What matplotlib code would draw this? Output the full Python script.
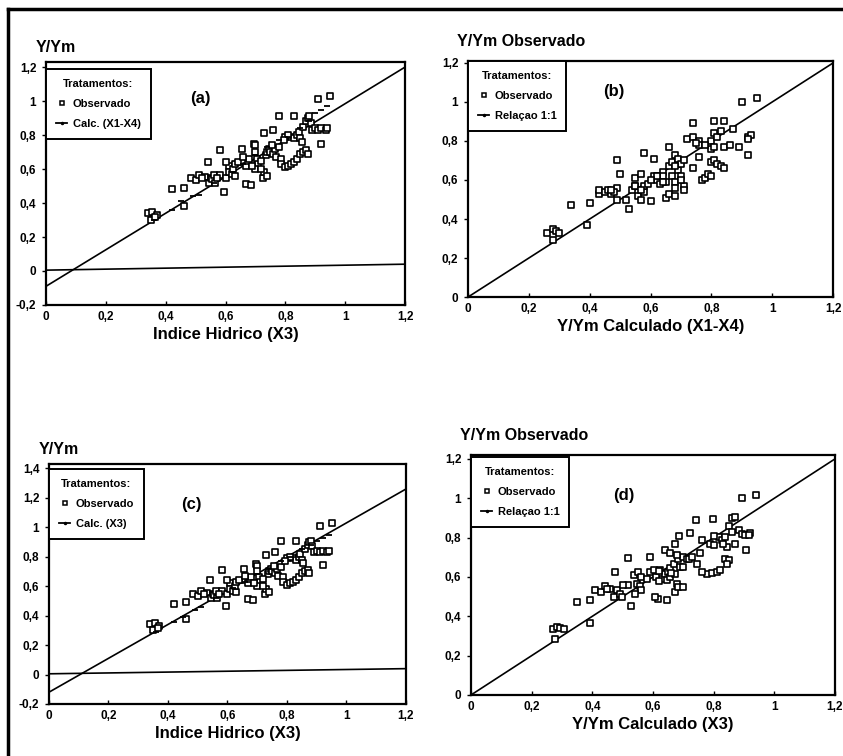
import matplotlib
matplotlib.use("Agg")
import matplotlib.pyplot as plt
from matplotlib.lines import Line2D

plt.rcParams['font.family'] = ['Liberation Sans', 'DejaVu Sans']
plt.rcParams['font.weight'] = 'bold'

# --- data ---
# observed Y/Ym against the water index X3 (panels a and c)
x3_obs = [0.34, 0.355, 0.37, 0.35, 0.365, 0.42, 0.46, 0.46, 0.485, 0.50,
          0.51, 0.53, 0.54, 0.545, 0.55, 0.555, 0.56, 0.565, 0.58, 0.58,
          0.595, 0.60, 0.61, 0.61, 0.62, 0.63, 0.625, 0.655, 0.66, 0.67,
          0.675, 0.68, 0.67, 0.685, 0.695, 0.70, 0.70, 0.705, 0.71, 0.70,
          0.69, 0.73, 0.725, 0.73, 0.74, 0.72, 0.735, 0.74, 0.745, 0.76,
          0.75, 0.76, 0.765, 0.755, 0.77, 0.78, 0.785, 0.78, 0.785, 0.80,
          0.81, 0.82, 0.83, 0.84, 0.85, 0.86, 0.87, 0.875, 0.83, 0.82,
          0.83, 0.84, 0.845, 0.85, 0.855, 0.86, 0.87, 0.875, 0.88, 0.885,
          0.89, 0.90, 0.91, 0.92, 0.935, 0.94, 0.91, 0.95, 0.92, 0.80,
          0.81, 0.795, 0.72, 0.63, 0.64, 0.66, 0.52, 0.57, 0.60]
y_obs = [0.34, 0.35, 0.33, 0.30, 0.315, 0.48, 0.49, 0.38, 0.545, 0.535,
         0.565, 0.555, 0.64, 0.52, 0.55, 0.54, 0.565, 0.52, 0.565, 0.71,
         0.465, 0.55, 0.62, 0.58, 0.57, 0.56, 0.60, 0.715, 0.64, 0.62,
         0.65, 0.66, 0.51, 0.505, 0.75, 0.74, 0.70, 0.66, 0.63, 0.60,
         0.62, 0.81, 0.545, 0.58, 0.56, 0.60, 0.68, 0.70, 0.72, 0.83,
         0.70, 0.69, 0.72, 0.74, 0.67, 0.73, 0.66, 0.91, 0.63, 0.61,
         0.62, 0.63, 0.64, 0.66, 0.69, 0.70, 0.71, 0.69, 0.91, 0.79,
         0.78, 0.80, 0.82, 0.78, 0.76, 0.85, 0.88, 0.90, 0.91, 0.87,
         0.83, 0.84, 0.83, 0.84, 0.83, 0.84, 1.01, 1.03, 0.745, 0.79,
         0.80, 0.77, 0.65, 0.63, 0.64, 0.67, 0.55, 0.55, 0.64]

# model X1-X4 estimates plotted against X3 (panel a)
x3_calc = [0.36, 0.42, 0.45, 0.49, 0.51, 0.56, 0.62, 0.66, 0.70, 0.74,
           0.78, 0.81, 0.85, 0.88, 0.90, 0.92, 0.94]
y_calc14 = [0.30, 0.36, 0.41, 0.44, 0.45, 0.52, 0.58, 0.63, 0.68, 0.73,
            0.77, 0.79, 0.84, 0.88, 0.93, 0.95, 0.97]
# model X3 estimates (panel c)
y_calc3 = [0.29, 0.36, 0.39, 0.44, 0.46, 0.52, 0.59, 0.63, 0.68, 0.72,
           0.77, 0.80, 0.85, 0.88, 0.91, 0.93, 0.95]

# panel b: observed vs calculated (X1-X4)
b_calc = [0.26, 0.28, 0.29, 0.30, 0.28, 0.34, 0.40, 0.39, 0.43, 0.43,
          0.45, 0.46, 0.47, 0.49, 0.49, 0.49, 0.50, 0.52, 0.53, 0.54,
          0.55, 0.55, 0.57, 0.56, 0.57, 0.58, 0.58, 0.59, 0.58, 0.60,
          0.61, 0.61, 0.62, 0.63, 0.63, 0.64, 0.65, 0.65, 0.66, 0.66,
          0.66, 0.67, 0.67, 0.68, 0.68, 0.68, 0.68, 0.69, 0.69, 0.70,
          0.70, 0.71, 0.71, 0.71, 0.72, 0.74, 0.74, 0.74, 0.76, 0.76,
          0.76, 0.77, 0.78, 0.79, 0.80, 0.80, 0.80, 0.81, 0.80, 0.81,
          0.82, 0.83, 0.84, 0.81, 0.84, 0.82, 0.83, 0.84, 0.87, 0.86,
          0.89, 0.90, 0.95, 0.92, 0.93, 0.92, 0.92, 0.81, 0.78, 0.75,
          0.64, 0.70, 0.62, 0.64, 0.48, 0.47, 0.55, 0.57, 0.60, 0.68]
b_obs = [0.33, 0.35, 0.34, 0.33, 0.29, 0.47, 0.48, 0.37, 0.53, 0.55,
         0.54, 0.55, 0.53, 0.50, 0.56, 0.70, 0.63, 0.50, 0.45, 0.55,
         0.57, 0.61, 0.63, 0.52, 0.50, 0.54, 0.57, 0.58, 0.74, 0.49,
         0.71, 0.62, 0.60, 0.58, 0.62, 0.64, 0.59, 0.51, 0.53, 0.77,
         0.67, 0.69, 0.62, 0.59, 0.56, 0.52, 0.73, 0.71, 0.65, 0.68,
         0.62, 0.57, 0.55, 0.70, 0.81, 0.82, 0.89, 0.66, 0.80, 0.78,
         0.72, 0.60, 0.61, 0.63, 0.62, 0.76, 0.80, 0.84, 0.69, 0.70,
         0.68, 0.67, 0.66, 0.90, 0.90, 0.82, 0.85, 0.77, 0.86, 0.78,
         0.77, 1.00, 1.02, 0.82, 0.83, 0.81, 0.73, 0.77, 0.78, 0.79,
         0.62, 0.60, 0.62, 0.59, 0.54, 0.55, 0.57, 0.55, 0.60, 0.67]

# panel d: observed vs calculated (X3)
d_calc = [0.27, 0.283, 0.294, 0.305, 0.278, 0.351, 0.391, 0.391, 0.41, 0.43,
          0.442, 0.457, 0.475, 0.47, 0.48, 0.49, 0.497, 0.516, 0.519, 0.528,
          0.536, 0.552, 0.547, 0.557, 0.562, 0.541, 0.59, 0.59, 0.602, 0.615,
          0.607, 0.646, 0.624, 0.63, 0.64, 0.646, 0.651, 0.657, 0.657, 0.64,
          0.657, 0.673, 0.687, 0.668, 0.684, 0.70, 0.689, 0.70, 0.711, 0.722,
          0.742, 0.755, 0.744, 0.673, 0.678, 0.673, 0.684, 0.70, 0.777, 0.761,
          0.794, 0.81, 0.821, 0.799, 0.788, 0.80, 0.816, 0.827, 0.838, 0.843,
          0.832, 0.838, 0.849, 0.843, 0.849, 0.86, 0.871, 0.871, 0.882, 0.893,
          0.904, 0.92, 0.915, 0.893, 0.94, 0.907, 0.61, 0.62, 0.66, 0.72,
          0.73, 0.50, 0.56, 0.58, 0.45, 0.62, 0.68, 0.76, 0.80, 0.86]
d_obs = [0.333, 0.347, 0.338, 0.333, 0.287, 0.473, 0.482, 0.368, 0.532, 0.524,
         0.553, 0.541, 0.625, 0.499, 0.532, 0.512, 0.499, 0.698, 0.558, 0.451,
         0.608, 0.625, 0.566, 0.555, 0.532, 0.512, 0.701, 0.625, 0.634, 0.49,
         0.50, 0.482, 0.634, 0.59, 0.616, 0.583, 0.625, 0.60, 0.645, 0.735,
         0.722, 0.769, 0.808, 0.668, 0.693, 0.701, 0.65, 0.65, 0.693, 0.825,
         0.891, 0.722, 0.668, 0.615, 0.566, 0.524, 0.55, 0.55, 0.613, 0.625,
         0.618, 0.625, 0.634, 0.896, 0.769, 0.76, 0.803, 0.786, 0.803, 0.752,
         0.765, 0.693, 0.685, 0.668, 0.857, 0.90, 0.904, 0.769, 0.84, 0.82,
         0.815, 0.823, 0.812, 1.002, 1.019, 0.735, 0.60, 0.58, 0.62, 0.69,
         0.70, 0.56, 0.60, 0.59, 0.54, 0.63, 0.71, 0.79, 0.81, 0.83]

# fitted lines (end points) and the zero reference line
line_x = [0.0, 1.2]
fit_a = [-0.09, 1.20]
fit_c = [-0.12, 1.26]
zero_a = [0.005, 0.04]
zero_c = [0.005, 0.04]
one_to_one = [0.0, 1.2]

xticks = [0, 0.2, 0.4, 0.6, 0.8, 1.0, 1.2]
xlabels = ['0', '0,2', '0,4', '0,6', '0,8', '1', '1,2']
yt_a = [-0.2, 0, 0.2, 0.4, 0.6, 0.8, 1.0, 1.2]
yl_a = ['-0,2', '0', '0,2', '0,4', '0,6', '0,8', '1', '1,2']
yt_c = yt_a + [1.4]
yl_c = yl_a + ['1,4']
yt_b = [0, 0.2, 0.4, 0.6, 0.8, 1.0, 1.2]
yl_b = ['0', '0,2', '0,4', '0,6', '0,8', '1', '1,2']

fig = plt.figure(figsize=(8.43, 7.56), dpi=100)

# frame of the scanned page
fig.add_artist(Line2D([0.010, 0.010], [0.0, 0.988], color='black', lw=2.5))
fig.add_artist(Line2D([0.010, 1.0], [0.988, 0.988], color='black', lw=2.5))


def style(ax, ylim, yt, yl, ytitle, ty, xtitle, tag, tagpos):
    ax.set_xlim(0, 1.2)
    ax.set_ylim(*ylim)
    ax.set_xticks(xticks)
    ax.set_xticklabels(xlabels)
    ax.set_yticks(yt)
    ax.set_yticklabels(yl)
    ax.tick_params(axis='x', direction='in', length=3, width=1, pad=4, labelsize=8.5)
    ax.tick_params(axis='y', direction='out', length=3, width=1, pad=4, labelsize=8.5)
    for s in ax.spines.values():
        s.set_linewidth(1.6)
    ax.text(-0.03, ty, ytitle, transform=ax.transAxes, fontsize=11.5,
            fontweight='bold', ha='left', va='bottom')
    ax.set_xlabel(xtitle, fontsize=12, fontweight='bold', labelpad=3)
    ax.text(tagpos[0], tagpos[1], tag, transform=ax.transAxes, fontsize=12,
            fontweight='bold', ha='center', va='center')


def legend(ax, labels, anchor):
    h_obs = Line2D([], [], ls='none', marker='s', ms=3.5, mfc='white',
                   mec='black', mew=1.1)
    h_line = Line2D([], [], color='black', lw=1.3, marker='.', ms=3)
    leg = ax.legend([h_obs, h_line], labels, title='Tratamentos:',
                    loc='upper left', bbox_to_anchor=anchor, borderaxespad=0,
                    fancybox=False, framealpha=1, edgecolor='black',
                    handlelength=1.0, handletextpad=0.5, labelspacing=0.9,
                    borderpad=0.9, prop={'size': 8, 'weight': 'bold'},
                    title_fontproperties={'size': 8, 'weight': 'bold'})
    leg.get_frame().set_linewidth(1.4)
    return leg


sq = dict(marker='s', s=16, facecolors='white', edgecolors='black',
          linewidths=1.2, zorder=3)

# (a)
ax = fig.add_axes([0.0546, 0.5966, 0.4259, 0.3214])
ax.plot(line_x, fit_a, color='black', lw=1.2)
ax.plot(line_x, zero_a, color='black', lw=1.2)
ax.scatter(x3_obs, y_obs, **sq)
ax.scatter(x3_calc, y_calc14, marker='_', s=20, color='black', lw=1.3, zorder=4)
style(ax, (-0.2, 1.23), yt_a, yl_a, 'Y/Ym', 1.03, 'Indice Hidrico (X3)', '(a)', (0.43, 0.85))
legend(ax, ['Observado', 'Calc. (X1-X4)'], (0.0, 0.97))

# (b)
ax = fig.add_axes([0.5552, 0.6071, 0.4330, 0.3122])
ax.plot(line_x, one_to_one, color='black', lw=1.2)
ax.scatter(b_calc, b_obs, **sq)
style(ax, (0, 1.21), yt_b, yl_b, 'Y/Ym Observado', 1.05, 'Y/Ym Calculado (X1-X4)', '(b)', (0.40, 0.87))
legend(ax, ['Observado', 'Relaçao 1:1'], (0.0, 1.0))

# (c)
ax = fig.add_axes([0.0581, 0.0688, 0.4235, 0.3175])
ax.plot(line_x, fit_c, color='black', lw=1.2)
ax.plot(line_x, zero_c, color='black', lw=1.2)
ax.scatter(x3_obs, y_obs, **sq)
ax.scatter(x3_calc, y_calc3, marker='_', s=20, color='black', lw=1.3, zorder=4)
style(ax, (-0.2, 1.43), yt_c, yl_c, 'Y/Ym', 1.03, 'Indice Hidrico (X3)', '(c)', (0.40, 0.83))
legend(ax, ['Observado', 'Calc. (X3)'], (0.0, 0.98))

# (d)
ax = fig.add_axes([0.5587, 0.0807, 0.4318, 0.3175])
ax.plot(line_x, one_to_one, color='black', lw=1.2)
ax.scatter(d_calc, d_obs, **sq)
style(ax, (0, 1.22), yt_b, yl_b, 'Y/Ym Observado', 1.05, 'Y/Ym Calculado (X3)', '(d)', (0.42, 0.83))
legend(ax, ['Observado', 'Relaçao 1:1'], (0.0, 0.99))

fig.savefig('out.png', dpi=100)
